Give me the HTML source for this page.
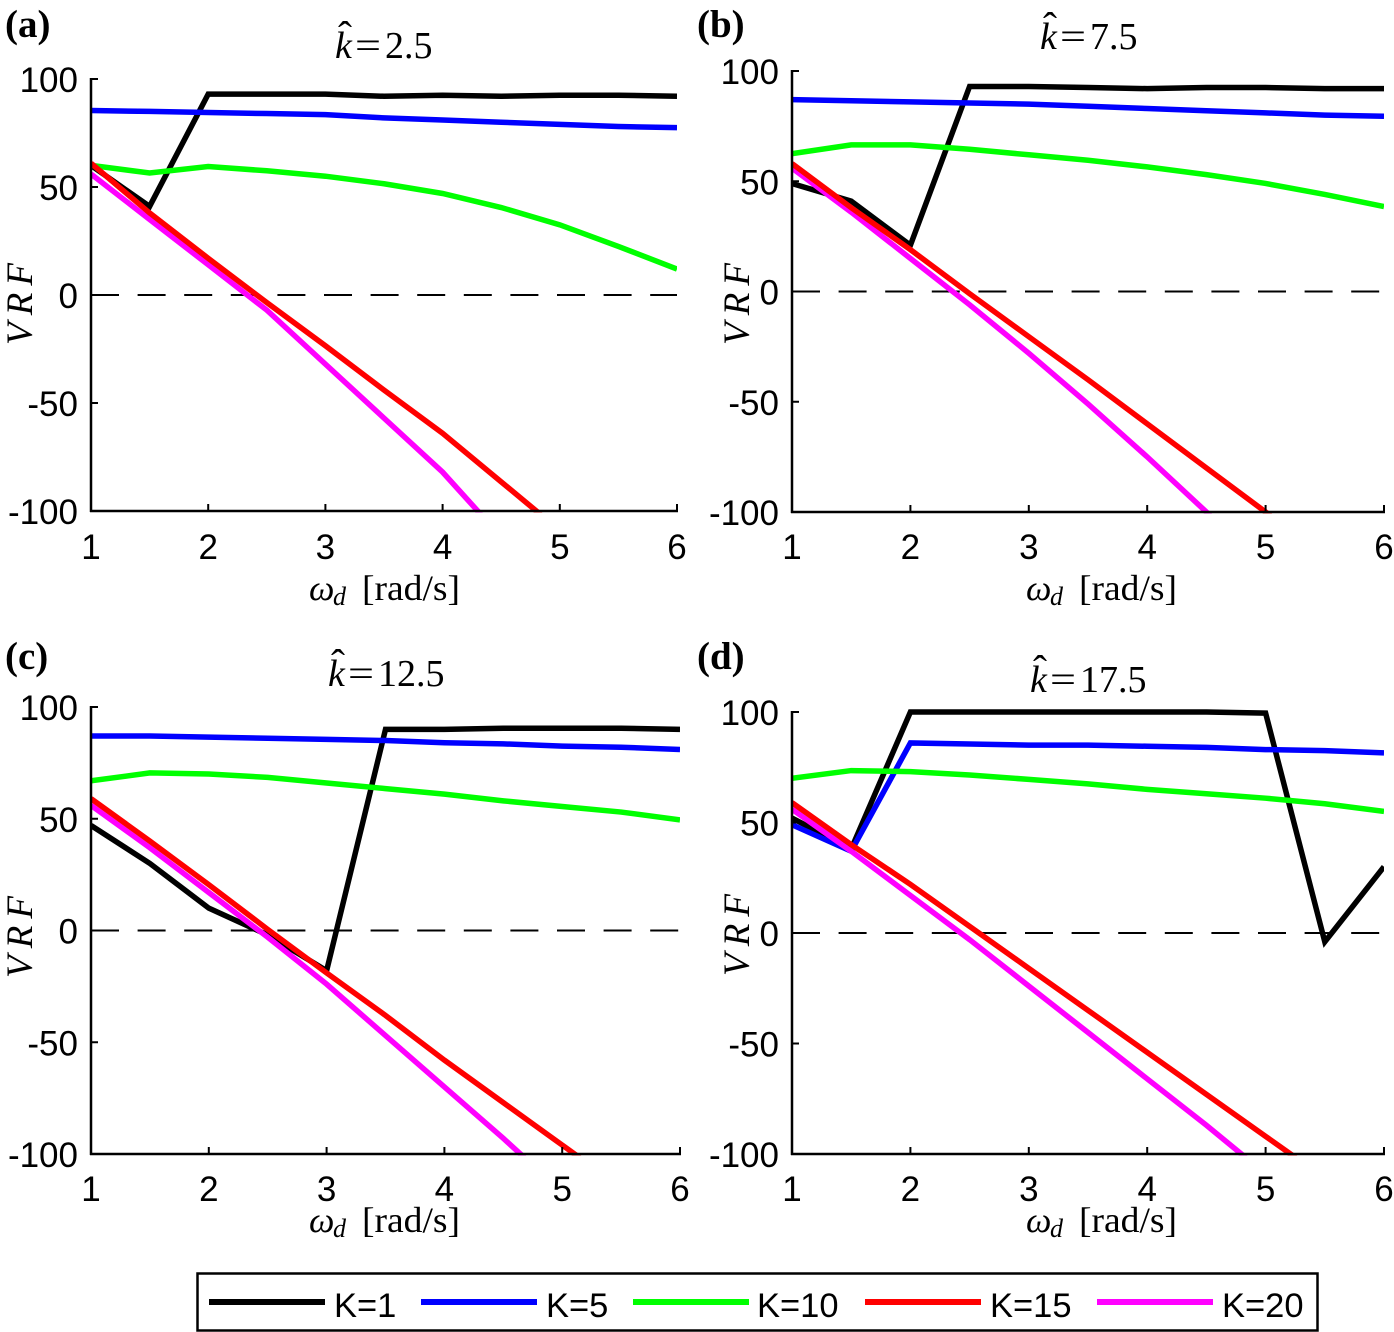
<!DOCTYPE html>
<html>
<head>
<meta charset="utf-8">
<title>VRF panels</title>
<style>
html,body{margin:0;padding:0;background:#fff;}
svg{display:block;}
text{fill:#000;}
.tick{font:35px "Liberation Sans",sans-serif;}
.legend-label{font:34.5px "Liberation Sans",sans-serif;}
.math{font-family:"Liberation Serif",serif;}
</style>
</head>
<body>
<svg id="chart" xmlns="http://www.w3.org/2000/svg" width="1394" height="1332" viewBox="0 0 1394 1332">
  <g id="panels"></g>
  <g id="legend">
    <rect x="197.5" y="1273.5" width="1120" height="57" fill="#fff" stroke="#000" stroke-width="2.5"/>
    <line x1="209" x2="325" y1="1302" y2="1302" stroke="#000" stroke-width="6"/>
    <text class="legend-label" x="334" y="1317">K=1</text>
    <line x1="421" x2="537" y1="1302" y2="1302" stroke="#00f" stroke-width="6"/>
    <text class="legend-label" x="546" y="1317">K=5</text>
    <line x1="633" x2="749" y1="1302" y2="1302" stroke="#0f0" stroke-width="6"/>
    <text class="legend-label" x="757" y="1317">K=10</text>
    <line x1="865" x2="981" y1="1302" y2="1302" stroke="#f00" stroke-width="6"/>
    <text class="legend-label" x="990" y="1317">K=15</text>
    <line x1="1097" x2="1213" y1="1302" y2="1302" stroke="#f0f" stroke-width="6"/>
    <text class="legend-label" x="1222" y="1317">K=20</text>
  </g>
</svg>
<script>
// Shared categories and tick labels
const omegaValues = [1, 1.5, 2, 2.5, 3, 3.5, 4, 4.5, 5, 5.5, 6];
const xTickLabels = [1, 2, 3, 4, 5, 6];
const yTickLabels = [-100, -50, 0, 50, 100];
const kLabels = ['k1', 'k5', 'k10', 'k15', 'k20'];

// Panel (a) k-hat = 2.5
const a_k1  = [60, 41, 93, 93, 93, 92, 92.5, 92, 92.5, 92.5, 92];
const a_k5  = [85.4, 85, 84.5, 84, 83.5, 82, 81, 80, 79, 78, 77.5];
const a_k10 = [60, 56.5, 59.5, 57.5, 55, 51.5, 47, 40.5, 32.5, 22.5, 12];
const a_k15 = [61, 38, 17, -3.5, -23.5, -44, -64, -86.5, -109, -132, -156];
const a_k20 = [56, 35, 14, -7, -32, -57, -82, -112, -142, -172, -202];

// Panel (b) k-hat = 7.5
const b_k1  = [49, 41, 21, 93, 93, 92.5, 92, 92.5, 92.5, 92, 92];
const b_k5  = [87, 86.5, 86, 85.5, 85, 84, 83, 82, 81, 80, 79.5];
const b_k10 = [62.5, 66.5, 66.5, 64.5, 62, 59.5, 56.5, 53, 49, 44, 38.5];
const b_k15 = [58, 38, 19, -1, -20.5, -40, -60, -80, -100, -120, -140];
const b_k20 = [56, 36, 15, -6, -28, -51, -75, -100, -125, -150, -175];

// Panel (c) k-hat = 12.5
const c_k1  = [47, 30, 10, -2, -18, 90, 90, 90.5, 90.5, 90.5, 90];
const c_k5  = [87, 87, 86.5, 86, 85.5, 85, 84, 83.5, 82.5, 82, 81];
const c_k10 = [67, 70.5, 70, 68.5, 66, 63.5, 61, 58, 55.5, 53, 49.5];
const c_k15 = [59, 40, 20.5, 0.5, -19, -38, -58, -77, -96, -115, -134];
const c_k20 = [56, 37, 17, -3, -24, -47, -70, -93, -117, -141, -165];

// Panel (d) k-hat = 17.5
const d_k1  = [52, 38, 100, 100, 100, 100, 100, 100, 99.5, -4, 30];
const d_k5  = [49, 37, 86, 85.5, 85, 85, 84.5, 84, 83, 82.5, 81.5];
const d_k10 = [70, 73.5, 73, 71.5, 69.5, 67.5, 65, 63, 61, 58.5, 55];
const d_k15 = [59, 40, 22, 3, -16, -35, -54, -73, -92, -111, -130];
const d_k20 = [56, 37, 17, -3, -24, -45, -66, -87, -109, -131, -153];

const panelTitles = ['2.5', '7.5', '12.5', '17.5'];
const panelTags = ['(a)', '(b)', '(c)', '(d)'];
const panelSeries = [
  [a_k1, a_k5, a_k10, a_k15, a_k20],
  [b_k1, b_k5, b_k10, b_k15, b_k20],
  [c_k1, c_k5, c_k10, c_k15, c_k20],
  [d_k1, d_k5, d_k10, d_k15, d_k20]
];

const layouts = [
  {x0:91,  x1:677,  yTop:79,  yBot:511,  titleX:335,  titleY:58,  tagX:5,   tagY:37,  yLabX:32,  yLabY:304, xLabY:600, xLabX:309,  tickY:559},
  {x0:792, x1:1384, yTop:71,  yBot:512,  titleX:1040, titleY:49,  tagX:697, tagY:37,  yLabX:749, yLabY:304, xLabY:600, xLabX:1026, tickY:559},
  {x0:91,  x1:680,  yTop:707, yBot:1154, titleX:328,  titleY:686, tagX:5,   tagY:669, yLabX:32,  yLabY:937, xLabY:1232,xLabX:309,  tickY:1201},
  {x0:792, x1:1384, yTop:712, yBot:1154, titleX:1030, titleY:692, tagX:697, tagY:669, yLabX:749, yLabY:935, xLabY:1232,xLabX:1026, tickY:1201}
];
const strokeColors = ['#000000', '#0000ff', '#00ff00', '#ff0000', '#ff00ff'];
const drawOrder = [0, 1, 2, 4, 3];

const NS = 'http://www.w3.org/2000/svg';
function mk(tag, attrs, parent, txt) {
  const el = document.createElementNS(NS, tag);
  for (const k in attrs) el.setAttribute(k, attrs[k]);
  if (txt !== undefined) el.textContent = txt;
  parent.appendChild(el);
  return el;
}
const root = document.getElementById('panels');
const svgEl = document.getElementById('chart');
const defs = mk('defs', {}, svgEl);

panelSeries.forEach(function (series, p) {
  const L = layouts[p];
  const letter = 'abcd'[p];
  const xScale = function (v) { return L.x0 + (v - 1) / 5 * (L.x1 - L.x0); };
  const yScale = function (v) { return L.yBot - (v + 100) / 200 * (L.yBot - L.yTop); };

  const g = mk('g', {}, root);
  
  

  const clip = mk('clipPath', {id: 'clip-' + letter}, defs);
  mk('rect', {x: L.x0, y: L.yTop - 4, width: L.x1 - L.x0, height: L.yBot - L.yTop + 5.5}, clip);

  // zero reference
  const zero = mk('line', {x1: L.x0, x2: L.x1, y1: yScale(0), y2: yScale(0), stroke: '#000', 'stroke-width': 2, 'stroke-dasharray': '28 18.6'}, g);
  
  

  // series
  drawOrder.forEach(function (s) {
    const pts = series[s].map(function (v, i) { return xScale(omegaValues[i]).toFixed(2) + ',' + yScale(v).toFixed(2); }).join(' ');
    const line = mk('polyline', {points: pts, fill: 'none', stroke: strokeColors[s], 'stroke-width': 5.5, 'stroke-linejoin': 'miter', 'clip-path': 'url(#clip-' + letter + ')'}, g);
    
    
  });

  // axes
  const yAxis = mk('line', {x1: L.x0, x2: L.x0, y1: L.yTop - 1, y2: L.yBot + 1, stroke: '#000', 'stroke-width': 2.5}, g);
  
  
  const xAxis = mk('line', {x1: L.x0 - 1, x2: L.x1 + 1, y1: L.yBot, y2: L.yBot, stroke: '#000', 'stroke-width': 2.5}, g);
  
  

  yTickLabels.forEach(function (v) {
    const y = yScale(v);
    const t = mk('line', {x1: L.x0, x2: L.x0 + 7, y1: y, y2: y, stroke: '#000', 'stroke-width': 2}, g);
    
    
    const lbl = mk('text', {class: 'tick', x: L.x0 - 13, y: y + 13, 'text-anchor': 'end'}, g, String(v));
    
    
  });
  xTickLabels.forEach(function (v) {
    const x = xScale(v);
    const t = mk('line', {x1: x, x2: x, y1: L.yBot, y2: L.yBot - 7, stroke: '#000', 'stroke-width': 2}, g);
    
    
    const lbl = mk('text', {class: 'tick', x: x, y: L.tickY, 'text-anchor': 'middle'}, g, String(v));
    
    
  });

  // panel tag
  const tag = mk('text', {class: 'math', x: L.tagX, y: L.tagY, 'font-size': 39, 'font-weight': 'bold'}, g, panelTags[p]);
  
  

  // title
  const titleG = mk('g', {}, g);
  
  
  mk('text', {class: 'math', x: L.titleX, y: L.titleY, 'font-size': 38, 'font-style': 'italic'}, titleG, 'k');
  mk('text', {class: 'math', x: L.titleX + 3, y: L.titleY - 9, 'font-size': 40, textLength: 14, lengthAdjust: 'spacingAndGlyphs'}, titleG, 'ˆ');
  mk('text', {class: 'math', x: L.titleX + 20, y: L.titleY, 'font-size': 38, textLength: 26, lengthAdjust: 'spacingAndGlyphs'}, titleG, '=');
  mk('text', {class: 'math', x: L.titleX + 50, y: L.titleY, 'font-size': 38}, titleG, panelTitles[p]);

  // x label
  const xl = mk('g', {}, g);
  
  
  mk('text', {class: 'math', x: L.xLabX, y: L.xLabY, 'font-size': 36, 'font-style': 'italic'}, xl, 'ω');
  mk('text', {class: 'math', x: L.xLabX + 24, y: L.xLabY + 5, 'font-size': 26, 'font-style': 'italic'}, xl, 'd');
  mk('text', {class: 'math', x: L.xLabX + 53, y: L.xLabY, 'font-size': 36, textLength: 98, lengthAdjust: 'spacingAndGlyphs'}, xl, '[rad/s]');

  // y label
  const yl = mk('text', {class: 'math', x: 0, y: 0, 'font-size': 37, 'font-style': 'italic', 'text-anchor': 'middle', textLength: 82, lengthAdjust: 'spacing', transform: 'translate(' + L.yLabX + ' ' + L.yLabY + ') rotate(-90)'}, g, 'VRF');
  
  
});
</script>
</body>
</html>
